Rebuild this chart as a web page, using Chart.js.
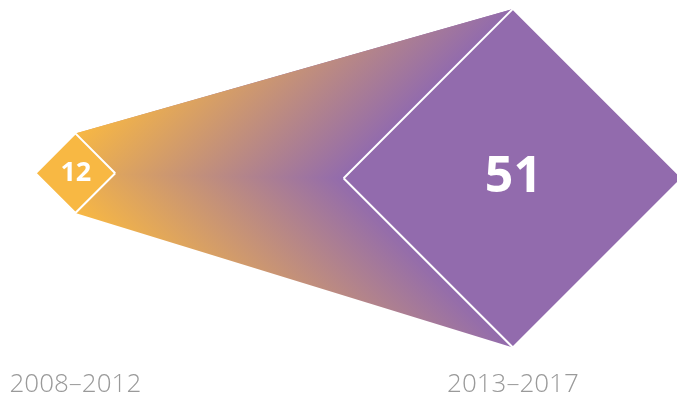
<!DOCTYPE html>
<html>
<head>
<meta charset="utf-8">
<script src="https://cdn.jsdelivr.net/npm/chart.js@4"></script>
<style>
  html, body { margin: 0; padding: 0; background: #fff; }
  #wrap { width: 677px; height: 397px; position: relative; }
</style>
</head>
<body>
<div id="wrap"><canvas id="diamonds"></canvas></div>
<script>
const periods = ['2008–2012', '2013–2017'];
const counts = [12, 51];

// diamond centres, in value units (same unit on both axes)
const centreX = [22.7, 154.5];
const centreY = [67.4, 65.9];

const UNIT = 3.32; // px per value unit
const ORANGE = '#F8B843';
const PURPLE = '#926BAD';

function half(i, side) {
  const v = counts[i], cx = centreX[i], cy = centreY[i];
  return [
    { x: cx - v, y: cy },
    { x: cx, y: cy + side * v },
    { x: cx + v, y: cy }
  ];
}

// The band reads like a stack of diamonds growing from the small one to the big one,
// so colour is constant along lines parallel to the diamonds' left edges.
// upper half: contours run along x + y, lower half: along x - y
function bandFill(sign) {
  return function (context) {
    const chart = context.chart;
    if (!chart.chartArea) return ORANGE;
    const sx = chart.scales.x, sy = chart.scales.y;
    const a = half(0, 1)[0], b = half(1, 1)[0];   // left tips of both diamonds
    const ax = sx.getPixelForValue(a.x), ay = sy.getPixelForValue(a.y);
    const bx = sx.getPixelForValue(b.x), by = sy.getPixelForValue(b.y);
    const k0 = (ax + sign * ay) / 2, k1 = (bx + sign * by) / 2;
    const g = chart.ctx.createLinearGradient(k0, sign * k0, k1, sign * k1);
    g.addColorStop(0, ORANGE);
    g.addColorStop(1, PURPLE);
    return g;
  };
}

const edge = { borderWidth: 0, pointRadius: 0, fill: false };
const outline = { borderColor: '#fff', borderWidth: 2, pointRadius: 0, borderJoinStyle: 'miter' };

const datasets = [
  // band: upper edge, lower edge, and the split between its halves
  { ...edge, data: [half(0, 1)[1], half(1, 1)[1]], order: 7 },
  { ...edge, data: [half(0, -1)[1], half(1, -1)[1]], order: 6, fill: 0, backgroundColor: bandFill(-1) },
  { ...edge, data: [half(0, 1)[0], half(1, 1)[0], { x: centreX[1], y: centreY[1] }], order: 5, fill: 0, backgroundColor: bandFill(1) },
  // 2013–2017
  { ...outline, data: half(1, 1), order: 3 },
  { ...outline, data: half(1, -1), order: 2, fill: '-1', backgroundColor: PURPLE },
  // 2008–2012
  { ...outline, data: half(0, 1), order: 1 },
  { ...outline, data: half(0, -1), order: 0, fill: '-1', backgroundColor: ORANGE }
];

const diamondText = {
  id: 'diamondText',
  afterDatasetsDraw(chart) {
    const { ctx, scales: { x, y } } = chart;
    ctx.save();
    ctx.textAlign = 'center';
    ctx.textBaseline = 'alphabetic';
    counts.forEach((v, i) => {
      const px = x.getPixelForValue(centreX[i]);
      const py = y.getPixelForValue(centreY[i]);
      const r = x.getPixelForValue(centreX[i] + v) - px;
      const size = Math.round(20 + r * 0.175);
      ctx.fillStyle = '#fff';
      ctx.font = 'bold ' + size + 'px "Open Sans"';
      ctx.fillText(String(v), px + 0.5, py + size * 0.28);

      ctx.fillStyle = '#9a9a9a';
      ctx.font = '300 26px "Open Sans Light", "Open Sans"';
      ctx.fillText(periods[i], px, 392);
    });
    ctx.restore();
  }
};

new Chart(document.getElementById('diamonds'), {
  type: 'line',
  data: { datasets },
  options: {
    responsive: true,
    maintainAspectRatio: false,
    animation: false,
    events: [],
    layout: { padding: 0 },
    elements: { line: { tension: 0 } },
    scales: {
      x: { type: 'linear', display: false, min: 0, max: 677 / UNIT },
      y: { type: 'linear', display: false, min: 0, max: 397 / UNIT }
    },
    plugins: {
      legend: { display: false },
      tooltip: { enabled: false },
      filler: { drawTime: 'beforeDatasetsDraw' }
    }
  },
  plugins: [diamondText]
});
</script>
</body>
</html>
